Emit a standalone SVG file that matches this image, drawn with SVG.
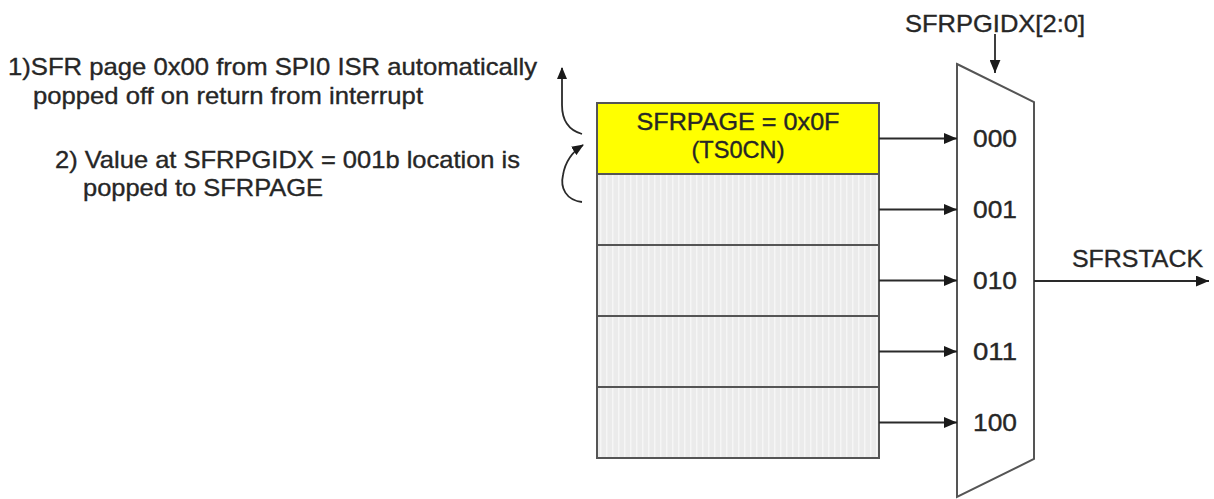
<svg xmlns="http://www.w3.org/2000/svg" width="1214" height="499" viewBox="0 0 1214 499">
<defs>
<pattern id="stripes" x="0" y="0" width="6" height="10" patternUnits="userSpaceOnUse">
<rect width="6" height="10" fill="#ebebeb"/>
<rect x="0" width="1.5" height="10" fill="#f6f6f6"/>
</pattern>
<marker id="ah" viewBox="0 0 12 10" refX="12" refY="5" markerWidth="13" markerHeight="11" markerUnits="userSpaceOnUse" orient="auto">
<path d="M0,0 L12,5 L0,10 z" fill="#1a1a1a"/>
</marker>
<marker id="ahs" viewBox="0 0 12 10" refX="11" refY="5" markerWidth="12" markerHeight="11" markerUnits="userSpaceOnUse" orient="auto">
<path d="M0,0 L12,5 L0,10 z" fill="#1a1a1a"/>
</marker>
</defs>
<style>
text { font-family: "Liberation Sans", Arial, sans-serif; font-size: 24px; fill: #262626; stroke: #262626; stroke-width: 0.35; }
.box { stroke: #555; stroke-width: 2; }
.wire { stroke: #2a2a2a; stroke-width: 1.8; fill: none; }
.curve { stroke: #2a2a2a; stroke-width: 1.8; fill: none; }
</style>
<rect width="1214" height="499" fill="#ffffff"/>

<g id="notes">
<text x="8" y="75" textLength="529" lengthAdjust="spacingAndGlyphs">1)SFR page 0x00 from SPI0 ISR automatically</text>
<text x="33" y="104" textLength="390" lengthAdjust="spacingAndGlyphs">popped off on return from interrupt</text>
<text x="55" y="168" textLength="465" lengthAdjust="spacingAndGlyphs">2) Value at SFRPGIDX = 001b location is</text>
<text x="83" y="196" textLength="240" lengthAdjust="spacingAndGlyphs">popped to SFRPAGE</text>
</g>

<g id="stack">
<rect id="row0" class="box" x="597" y="103" width="282" height="71" fill="#ffff00"/>
<rect id="row1" class="box" x="597" y="174" width="282" height="71" fill="url(#stripes)"/>
<rect id="row2" class="box" x="597" y="245" width="282" height="71" fill="url(#stripes)"/>
<rect id="row3" class="box" x="597" y="316" width="282" height="71" fill="url(#stripes)"/>
<rect id="row4" class="box" x="597" y="387" width="282" height="71" fill="url(#stripes)"/>
<text x="738" y="130" text-anchor="middle" textLength="203" lengthAdjust="spacingAndGlyphs">SFRPAGE = 0x0F</text>
<text x="738" y="158" text-anchor="middle" textLength="93" lengthAdjust="spacingAndGlyphs">(TS0CN)</text>
</g>

<g id="mux">
<polygon class="box" points="957,64 1034,102 1034,459 957,497" fill="#ffffff"/>
<text x="995" y="147" text-anchor="middle" textLength="44" lengthAdjust="spacingAndGlyphs">000</text>
<text x="995" y="218" text-anchor="middle" textLength="44" lengthAdjust="spacingAndGlyphs">001</text>
<text x="995" y="289" text-anchor="middle" textLength="44" lengthAdjust="spacingAndGlyphs">010</text>
<text x="995" y="360" text-anchor="middle" textLength="44" lengthAdjust="spacingAndGlyphs">011</text>
<text x="995" y="431" text-anchor="middle" textLength="44" lengthAdjust="spacingAndGlyphs">100</text>
</g>

<g id="sel-label">
<text x="905" y="32" textLength="180" lengthAdjust="spacingAndGlyphs">SFRPGIDX[2:0]</text>
</g>
<g id="out-label">
<text x="1072" y="267" textLength="131" lengthAdjust="spacingAndGlyphs">SFRSTACK</text>
</g>

<g id="connectors">
<line class="wire" x1="879" y1="138.5" x2="957" y2="138.5" marker-end="url(#ah)"/>
<line class="wire" x1="879" y1="209.5" x2="957" y2="209.5" marker-end="url(#ah)"/>
<line class="wire" x1="879" y1="280.5" x2="957" y2="280.5" marker-end="url(#ah)"/>
<line class="wire" x1="879" y1="351.5" x2="957" y2="351.5" marker-end="url(#ah)"/>
<line class="wire" x1="879" y1="422.5" x2="957" y2="422.5" marker-end="url(#ah)"/>
<line class="wire" x1="1034" y1="281" x2="1209" y2="281" marker-end="url(#ah)"/>
<line class="wire" x1="995" y1="34" x2="995" y2="73" marker-end="url(#ah)"/>
<path class="curve" d="M582,134 C568,130 562,120 562,105 L562,68" marker-end="url(#ahs)"/>
<path class="curve" d="M582,202 C566,200 560,188 563,175 C565,163 572,152 583,145" marker-end="url(#ahs)"/>
</g>
</svg>
